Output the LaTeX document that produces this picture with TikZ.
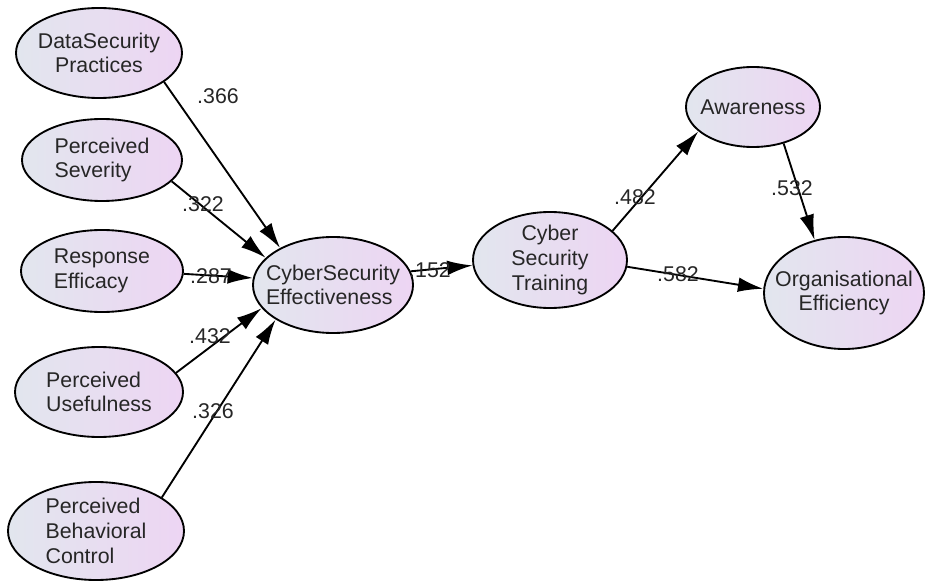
\documentclass[tikz,border=0pt]{standalone}
\usepackage{fontspec}
\setmainfont{Liberation Sans}
\usetikzlibrary{shapes.geometric,arrows.meta}
\definecolor{shadeA}{RGB}{226,230,238}
\definecolor{shadeB}{RGB}{237,213,243}
\begin{document}
\begin{tikzpicture}[x=0.75pt,y=-0.75pt,
  var/.style={ellipse, draw=black, line width=1.4pt, inner sep=0pt,
    left color=shadeA, right color=shadeB},
  vtext/.style={font=\fontsize{16}{18.5}\selectfont, text=black!85, inner sep=0pt},
  path/.style={line width=1.4pt, -{Latex[length=19pt,width=11pt]}},
  coef/.style={font=\fontsize{16}{18.5}\selectfont, inner sep=0pt, text=black!85}]
\useasboundingbox (0,0) rectangle (925,581);
\node[var, minimum width=124.5pt, minimum height=67.5pt,
  label={[vtext, align=center]center:DataSecurity\\Practices}] (dsp) at (99,53) {};
\node[var, minimum width=120pt, minimum height=61.5pt,
  label={[vtext, align=left]center:Perceived\\Severity}] (ps) at (102,160) {};
\node[var, minimum width=121.5pt, minimum height=61.5pt,
  label={[vtext, align=left]center:Response\\Efficacy}] (re) at (102,271) {};
\node[var, minimum width=126pt, minimum height=67.5pt,
  label={[vtext, align=left]center:Perceived\\Usefulness}] (pu) at (99,392) {};
\node[var, minimum width=132pt, minimum height=73.5pt,
  label={[vtext, align=left]center:Perceived\\Behavioral\\Control}] (pbc) at (96,531) {};
\node[var, minimum width=120pt, minimum height=72pt,
  label={[vtext, align=left]center:CyberSecurity\\Effectiveness}] (cse) at (333,285) {};
\node[var, minimum width=115.5pt, minimum height=72pt,
  label={[vtext, align=center]center:Cyber\\Security\\Training}] (cst) at (550,260) {};
\node[var, minimum width=100.5pt, minimum height=60pt,
  label={[vtext, align=center]center:Awareness}] (aw) at (753,107) {};
\node[var, minimum width=120pt, minimum height=84pt,
  label={[vtext, align=center]center:Organisational\\Efficiency}] (oe) at (844,293) {};

\draw[path] (dsp.-24) -- (cse.145);
\draw[path] (ps.-17) -- (cse.158);
\draw[path] (re.-2) -- (cse.175);
\draw[path] (pu.14) -- (cse.198);
\draw[path] (pbc.27) -- (cse.211);
\draw[path] (cse.10) -- (cst.184);
\draw[path] (cst.25) -- (aw.204);
\draw[path] (cst.-5) -- (oe.177);
\draw[path] (aw.-50) -- (oe.119);

\node[coef] (c366) at (218,96) {.366};
\node[coef] (c322) at (203,204) {.322};
\node[coef] (c287) at (211,276) {.287};
\node[coef] (c432) at (210,336) {.432};
\node[coef] (c326) at (213,411) {.326};
\node[coef] (c152) at (430,270) {.152};
\node[coef] (c482) at (635,197) {.482};
\node[coef] (c532) at (792,188) {.532};
\node[coef] (c582) at (678,274) {.582};
\end{tikzpicture}
\end{document}
